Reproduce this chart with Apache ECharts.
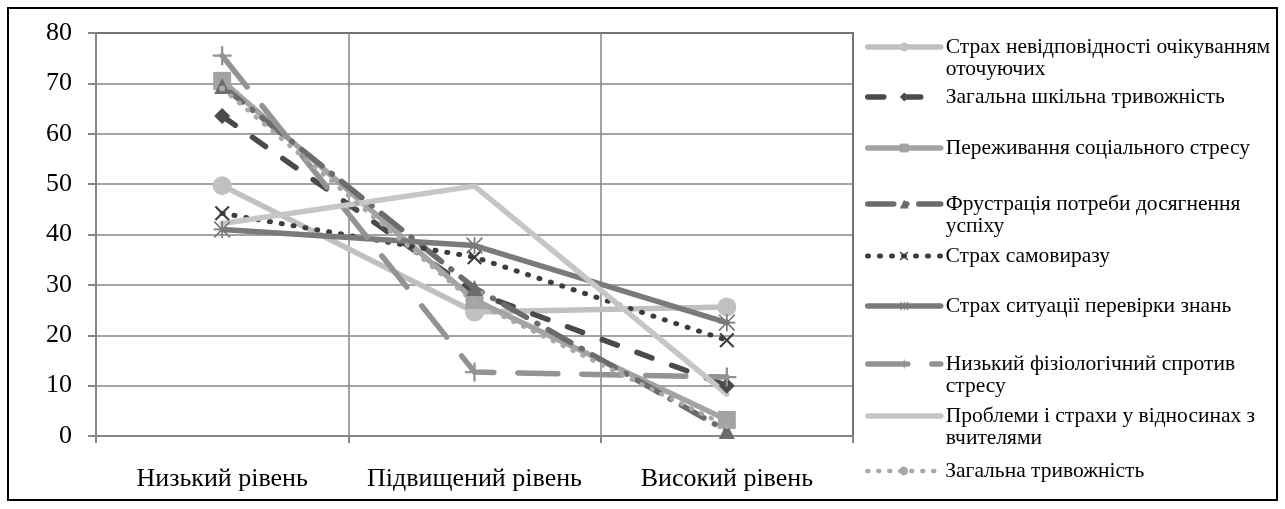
<!DOCTYPE html>
<html>
<head>
<meta charset="utf-8">
<script src="https://cdn.jsdelivr.net/npm/echarts@6/dist/echarts.min.js"></script>
<style>
  html, body { margin: 0; padding: 0; background: #fff; }
  #chart { width: 1285px; height: 509px; }
</style>
</head>
<body>
<div id="chart"></div>
<script>
// Anxiety levels by category
const categories = ['Низький рівень', 'Підвищений рівень', 'Високий рівень'];

const seriesNames = [
  'Страх невідповідності очікуванням\nоточуючих',
  'Загальна шкільна тривожність',
  'Переживання соціального стресу',
  'Фрустрація потреби досягнення\nуспіху',
  'Страх самовиразу',
  'Страх ситуації перевірки знань',
  'Низький фізіологічний спротив\nстресу',
  'Проблеми і страхи у відносинах з\nвчителями',
  'Загальна тривожність'
];

const expectationsFear   = [49.7, 24.6, 25.6];
const schoolAnxiety      = [63.5, 28.5, 10];
const socialStress       = [70.5, 27, 3.2];
const achievementFrustr  = [69.5, 29.4, 1];
const selfExpressionFear = [44.2, 35.5, 19];
const knowledgeTestFear  = [41, 37.8, 22.5];
const lowStressResist    = [75.5, 12.7, 11.7];
const teacherRelations   = [42.2, 49.6, 8.3];
const generalAnxiety     = [69, 26.5, 2];

const yTicks = { min: 0, max: 80, interval: 10 };

// marker shapes
const xMark = 'path://M0,1L1,0L5,4L9,0L10,1L6,5L10,9L9,10L5,6L1,10L0,9L4,5Z';
const starMark = 'path://M4.5,0L5.5,0L5.5,10L4.5,10Z M0,4.5L10,4.5L10,5.5L0,5.5Z M0.7,0L10,9.3L9.3,10L0,0.7Z M9.3,0L10,0.7L0.7,10L0,9.3Z';
const plusMark = 'path://M4.4,0L5.6,0L5.6,4.4L10,4.4L10,5.6L5.6,5.6L5.6,10L4.4,10L4.4,5.6L0,5.6L0,4.4L4.4,4.4Z';

const FONT = 'Liberation Serif';

function line(name, data, color, width, type, symbol, size) {
  return {
    name: name,
    type: 'line',
    data: data,
    symbol: symbol,
    symbolSize: size,
    showSymbol: symbol !== 'none',
    animation: false,
    color: color,
    lineStyle: { color: color, width: width, type: type, cap: 'round', join: 'round' },
    itemStyle: { color: color }
  };
}

const series = [
  line(seriesNames[0], expectationsFear, '#c0c0c0', 5.5, 'solid', 'circle', 19),
  line(seriesNames[1], schoolAnxiety, '#4a4a4a', 5.5, [16, 21], 'diamond', 16),
  line(seriesNames[2], socialStress, '#a3a3a3', 5.5, 'solid', 'rect', 18),
  line(seriesNames[3], achievementFrustr, '#6c6c6c', 5.5, [26, 12, 1, 12], 'triangle', 16),
  line(seriesNames[4], selfExpressionFear, '#3c3c3c', 5, [1, 11], xMark, 15),
  line(seriesNames[5], knowledgeTestFear, '#7a7a7a', 5.5, 'solid', starMark, 17),
  line(seriesNames[6], lowStressResist, '#939393', 5.5, [40, 24], plusMark, 19),
  line(seriesNames[7], teacherRelations, '#c6c6c6', 5.5, 'solid', 'none', 0),
  line(seriesNames[8], generalAnxiety, '#a8a8a8', 4.5, [1, 10], 'circle', 6)
];

// legend rows: first-line centre of each entry
const legendRows = [47, 97, 148, 204, 256, 306, 364, 416, 471];
const LEGEND_LH = 22;

const legends = seriesNames.map(function (name, i) {
  const twoLines = name.indexOf('\n') >= 0;
  const lg = {
    data: [name],
    orient: 'vertical',
    left: 865,
    // a leading blank line keeps the first text line level with the icon
    top: legendRows[i] - (twoLines ? LEGEND_LH * 1.5 : LEGEND_LH / 2),
    padding: 0,
    itemWidth: 73,
    itemHeight: 11,
    itemGap: 0,
    selectedMode: false,
    formatter: function (n) { return n.indexOf('\n') >= 0 ? '\n' + n : n; },
    lineStyle: { width: 'inherit' },
    textStyle: {
      fontFamily: FONT,
      fontSize: 21.5,
      lineHeight: LEGEND_LH,
      color: '#000'
    }
  };
  if (series[i].symbol === 'none') lg.itemStyle = { opacity: 0 };
  return lg;
});

const chart = echarts.init(document.getElementById('chart'), null, { renderer: 'canvas' });

chart.setOption({
  backgroundColor: '#fff',
  animation: false,
  graphic: [{
    type: 'rect',
    shape: { x: 8, y: 8, width: 1269, height: 492 },
    style: { fill: 'none', stroke: '#000', lineWidth: 2 },
    z: -1
  }],
  legend: legends,
  grid: {
    left: 96, top: 33, right: 432, bottom: 73,
    show: true, borderColor: '#000', borderWidth: 1.5, backgroundColor: 'transparent'
  },
  xAxis: {
    type: 'category',
    data: categories,
    boundaryGap: true,
    axisLine: { lineStyle: { color: '#868686', width: 2 } },
    axisTick: { show: true, interval: 0, inside: false, length: 7, lineStyle: { color: '#868686', width: 2 } },
    splitLine: { show: true, interval: 0, lineStyle: { color: '#868686', width: 1.5 } },
    axisLabel: { interval: 0, hideOverlap: false, fontFamily: FONT, fontSize: 26, color: '#000', margin: 30 }
  },
  yAxis: {
    type: 'value',
    min: yTicks.min, max: yTicks.max, interval: yTicks.interval,
    axisLine: { show: true, lineStyle: { color: '#868686', width: 2 } },
    axisTick: { show: true, inside: false, length: 8, lineStyle: { color: '#868686', width: 2 } },
    splitLine: { show: true, lineStyle: { color: '#868686', width: 1.5 } },
    axisLabel: { fontFamily: FONT, fontSize: 26, color: '#000', margin: 24 }
  },
  series: series
});
</script>
</body>
</html>
